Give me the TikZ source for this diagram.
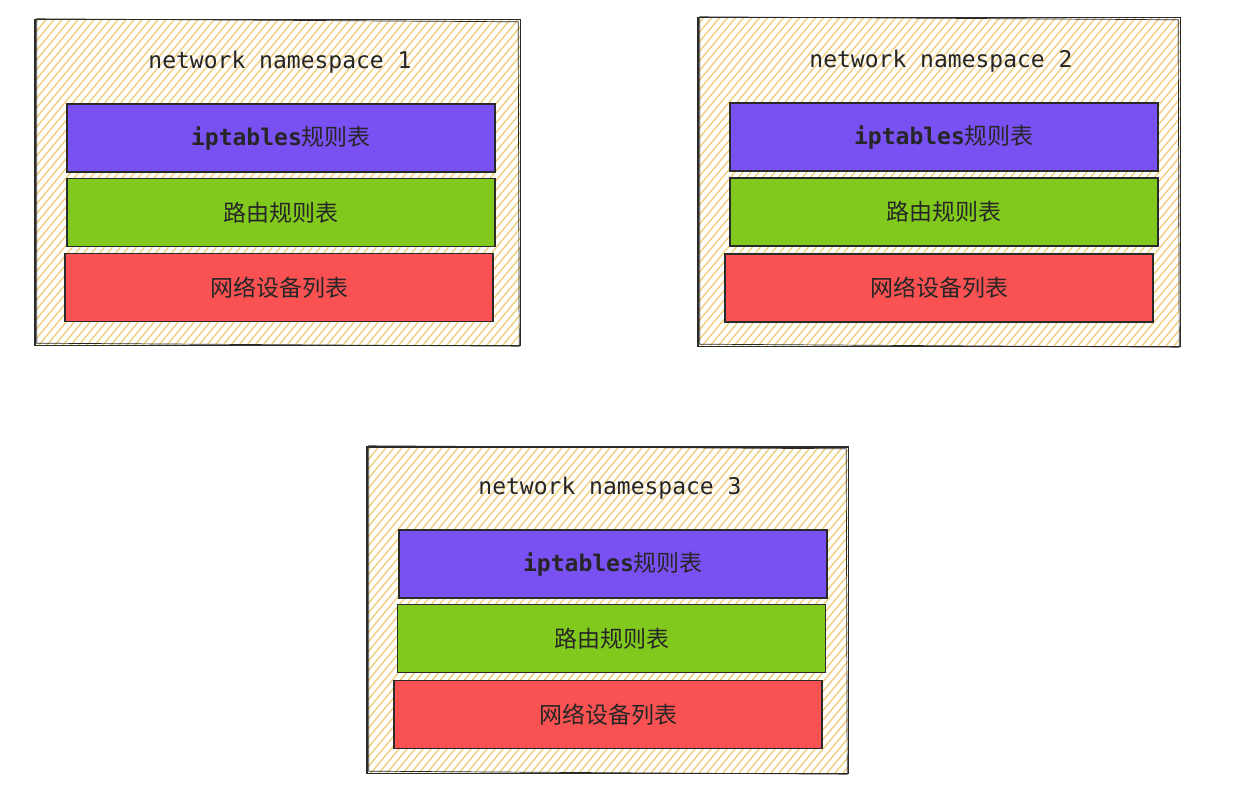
\documentclass[tikz,border=0pt]{standalone}
\usepackage{fontspec}
\setmonofont{DejaVu Sans Mono}
\newfontfamily\cjk{Noto Sans CJK SC}
\usetikzlibrary{calc}
\definecolor{hatchc}{HTML}{F1CF7E}
\definecolor{edgec}{HTML}{2A2A2A}
\definecolor{violetc}{HTML}{7950F2}
\definecolor{greenc}{HTML}{82C91E}
\definecolor{redc}{HTML}{FA5252}
\definecolor{txtc}{HTML}{262626}
\tikzset{
  nsbox/.style={draw=none, fill=white, inner sep=0pt},
  hatch/.style={draw=hatchc, line width=1.4pt},
  sketch/.style={draw=edgec, line width=1.4pt},
  sketchthin/.style={draw=edgec, line width=0.7pt},
  layer/.style={draw=edgec, line width=1.3pt, minimum width=428pt, minimum height=68pt, inner sep=0pt, text=txtc, font=\fontsize{23}{26}\selectfont},
  ipt/.style={layer, fill=violetc},
  rt/.style={layer, fill=greenc},
  dev/.style={layer, fill=redc},
  title/.style={text=txtc, font=\ttfamily\fontsize{23}{26}\selectfont, inner sep=0pt},
}
\newcommand{\nsframe}[1]{%
  \begin{scope}
    \clip (#1.south west) rectangle (#1.north east);
    \foreach \i in {-340,-332,...,500} {
      \draw[hatch] ($(#1.south west)+(\i,0)$) -- ++(300,-360);
    }
  \end{scope}
  \draw[sketch] (#1.south west) rectangle (#1.north east);
  \draw[sketchthin] ($(#1.south west)+(2,-2)$) -- ($(#1.south east)+(-1,1)$) -- ($(#1.north east)+(-2,2)$) -- ($(#1.north west)+(2,-1)$) -- cycle;
}
\begin{document}
\begin{tikzpicture}[x=1pt,y=-1pt]
\useasboundingbox (0,0) rectangle (1245,810);
\fill[white] (0,0) rectangle (1245,810);

% namespace 1
\node[nsbox, minimum width=485pt, minimum height=325pt] (ns1) at (277.5,182.5) {};
\nsframe{ns1}
\node[title] (t1) at (280,62) {network namespace 1};
\node[ipt] (ipt1) at (281,138) {\ttfamily\bfseries iptables\mdseries\cjk 规则表};
\node[rt] (rt1) at (281,212.5) {\cjk 路由规则表};
\node[dev] (dev1) at (279,287.5) {\cjk 网络设备列表};

% namespace 2
\node[nsbox, minimum width=482pt, minimum height=328pt] (ns2) at (939,182) {};
\nsframe{ns2}
\node[title] (t2) at (941,61) {network namespace 2};
\node[ipt] (ipt2) at (944,137) {\ttfamily\bfseries iptables\mdseries\cjk 规则表};
\node[rt] (rt2) at (944,212) {\cjk 路由规则表};
\node[dev] (dev2) at (939,288) {\cjk 网络设备列表};

% namespace 3
\node[nsbox, minimum width=481pt, minimum height=326pt] (ns3) at (607.5,610) {};
\nsframe{ns3}
\node[title] (t3) at (610,488) {network namespace 3};
\node[ipt] (ipt3) at (613,564) {\ttfamily\bfseries iptables\mdseries\cjk 规则表};
\node[rt] (rt3) at (611.5,638.5) {\cjk 路由规则表};
\node[dev] (dev3) at (608,714.5) {\cjk 网络设备列表};
\end{tikzpicture}
\end{document}
